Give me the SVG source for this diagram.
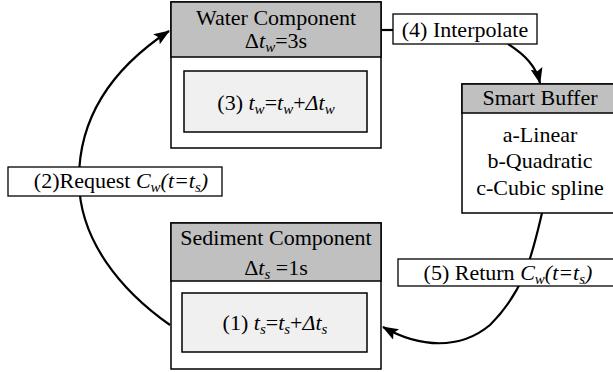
<svg xmlns="http://www.w3.org/2000/svg" width="613" height="372" viewBox="0 0 613 372">
<style>
text{font-family:"Liberation Serif","Times New Roman",Tinos,"Nimbus Roman","DejaVu Serif",serif;font-size:22px;fill:#000}
.c{text-anchor:middle}
.i{font-style:italic}
.sub{font-size:15px;font-style:italic}
.box{fill:#fff;stroke:#000;stroke-width:1.5}
.hdr{fill:#c0c0c0;stroke:#000;stroke-width:1.5}
.inner{fill:#f0f0f0;stroke:#000;stroke-width:1.5}
.lbl{fill:#fff;stroke:#000;stroke-width:1.3}
.edge{fill:none;stroke:#000;stroke-width:2.2}
</style>
<defs>
<marker id="ah" viewBox="0 0 16 12" refX="15" refY="6" markerWidth="16" markerHeight="12" markerUnits="userSpaceOnUse" orient="auto">
<path d="M0,0 L16,6 L0,12 L3,6 Z" fill="#000"/>
</marker>
</defs>
<g id="connectors">
<path class="edge" d="M170,325 C120,290 80,240 79,182 C78,120 110,70 169,31" marker-end="url(#ah)"/>
<path class="edge" d="M381,30 L393,30"/>
<path class="edge" d="M508,44 C525,55 536,66 540,83" marker-end="url(#ah)"/>
<path class="edge" d="M542,213 C532,255 525,290 490,325 C460,350 420,348 383,327" marker-end="url(#ah)"/>
</g>
<g id="water">
<rect class="box" x="171" y="2" width="210" height="146"/>
<rect class="hdr" x="171" y="2" width="210" height="55"/>
<text class="c" x="276" y="25" font-family="Liberation Serif, serif">Water Component</text>
<text class="c" x="276" y="48">Δ<tspan class="i">t</tspan><tspan class="sub" dy="4">w</tspan><tspan dy="-4">=3s</tspan></text>
<rect class="inner" x="184" y="71" width="183" height="61"/>
<text class="c" x="276" y="110">(3) <tspan class="i">t</tspan><tspan class="sub" dy="4">w</tspan><tspan dy="-4">=</tspan><tspan class="i">t</tspan><tspan class="sub" dy="4">w</tspan><tspan dy="-4">+</tspan><tspan class="i">Δt</tspan><tspan class="sub" dy="4">w</tspan></text>
</g>
<g id="sediment">
<rect class="box" x="171" y="223" width="210" height="146"/>
<rect class="hdr" x="171" y="223" width="210" height="58"/>
<text class="c" x="276" y="245">Sediment Component</text>
<text class="c" x="276" y="275">Δ<tspan class="i">t</tspan><tspan class="sub" dy="4">s</tspan><tspan dy="-4"> =1s</tspan></text>
<rect class="inner" x="182" y="293" width="185" height="59"/>
<text class="c" x="275" y="330">(1) <tspan class="i">t</tspan><tspan class="sub" dy="4">s</tspan><tspan dy="-4">=</tspan><tspan class="i">t</tspan><tspan class="sub" dy="4">s</tspan><tspan dy="-4">+</tspan><tspan class="i">Δt</tspan><tspan class="sub" dy="4">s</tspan></text>
</g>
<g id="buffer">
<rect class="box" x="462" y="84" width="156" height="129"/>
<rect class="hdr" x="462" y="84" width="156" height="29"/>
<text class="c" x="540" y="105">Smart Buffer</text>
<text class="c" x="540" y="142">a-Linear</text>
<text class="c" x="540" y="168">b-Quadratic</text>
<text class="c" x="540" y="195">c-Cubic spline</text>
</g>
<g id="label-interpolate">
<rect class="lbl" x="393" y="14" width="144" height="30"/>
<text class="c" x="465" y="37">(4) Interpolate</text>
</g>
<g id="label-request">
<rect class="lbl" x="8" y="167" width="214" height="29"/>
<text class="c" x="121" y="188">(2)Request <tspan class="i">C</tspan><tspan class="sub" dy="4">w</tspan><tspan class="i" dy="-4">(t=t</tspan><tspan class="sub" dy="4">s</tspan><tspan class="i" dy="-4">)</tspan></text>
</g>
<g id="label-return">
<rect class="lbl" x="398" y="259" width="220" height="27"/>
<text class="c" x="508" y="280">(5) Return <tspan class="i">C</tspan><tspan class="sub" dy="4">w</tspan><tspan class="i" dy="-4">(t=t</tspan><tspan class="sub" dy="4">s</tspan><tspan class="i" dy="-4">)</tspan></text>
</g>
</svg>
